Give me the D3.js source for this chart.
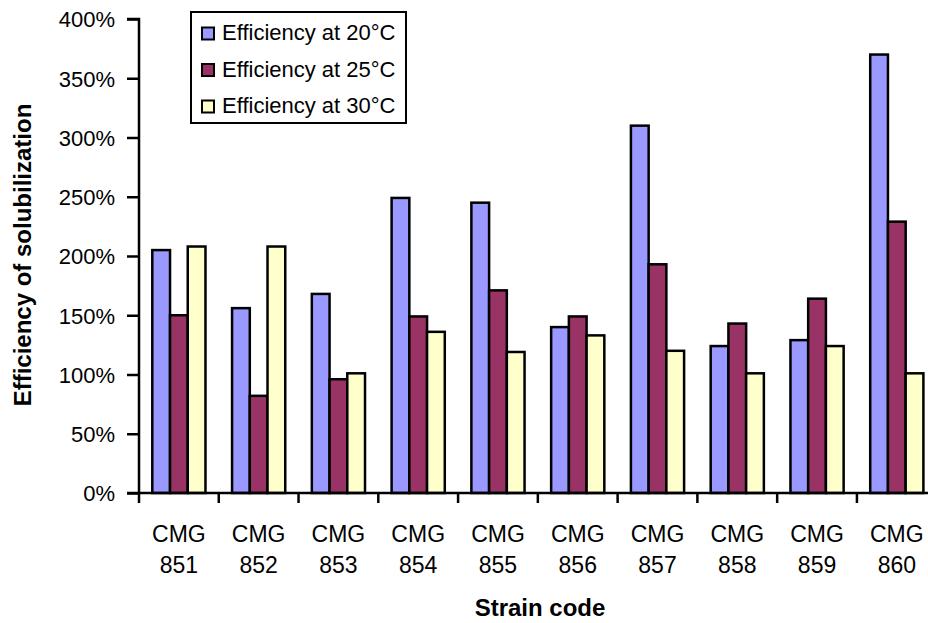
<!DOCTYPE html>
<html>
<head>
<meta charset="utf-8">
<script src="https://cdn.jsdelivr.net/npm/d3@7"></script>
<style>
  html, body { margin: 0; padding: 0; background: #fff; }
  svg { display: block; }
  text { font-family: Arial, "Liberation Sans", sans-serif; fill: #000; }
</style>
</head>
<body>
<svg id="chart" width="928" height="623"></svg>
<script>
const categories = ["CMG 851", "CMG 852", "CMG 853", "CMG 854", "CMG 855",
                    "CMG 856", "CMG 857", "CMG 858", "CMG 859", "CMG 860"];
const seriesNames = ["Efficiency at 20°C", "Efficiency at 25°C", "Efficiency at 30°C"];
const eff20 = [205, 156, 168, 249, 245, 140, 310, 124, 129, 370];
const eff25 = [150, 82, 96, 149, 171, 149, 193, 143, 164, 229];
const eff30 = [208, 208, 101, 136, 119, 133, 120, 101, 124, 101];
const yTicks = [0, 50, 100, 150, 200, 250, 300, 350, 400];
const colors = ["#9999FF", "#993366", "#FFFFCC"];
const xTitle = "Strain code";
const yTitle = "Efficiency of solubilization";

const seriesValues = [eff20, eff25, eff30];

const svg = d3.select("#chart");
const plotLeft = 139, plotTop = 19, plotBottom = 493;
const catStep = 79.77;
const plotRight = plotLeft + catStep * categories.length;

const y = d3.scaleLinear().domain([0, 400]).range([plotBottom, plotTop]);
const x0 = d3.scaleBand().domain(categories).range([plotLeft, plotRight]).padding(0);
const W = x0.bandwidth();
const x1 = d3.scaleBand().domain(d3.range(seriesNames.length))
  .range([W * 0.75 / 4.5, W - W * 0.75 / 4.5]).padding(0);

// bars
const groups = svg.append("g").selectAll("g")
  .data(categories)
  .join("g")
  .attr("transform", d => `translate(${x0(d)},0)`);

groups.selectAll("rect")
  .data((c, i) => seriesValues.map((vals, s) => ({ s, v: vals[i] })))
  .join("rect")
  .attr("x", d => x1(d.s))
  .attr("y", d => y(d.v))
  .attr("width", x1.bandwidth())
  .attr("height", d => y(0) - y(d.v))
  .attr("fill", d => colors[d.s])
  .attr("stroke", "#000")
  .attr("stroke-width", 2.5);

// y axis
const yAxis = d3.axisLeft(y).tickValues(yTicks).tickSize(12).tickPadding(12)
  .tickFormat(d => d + "%");
const gy = svg.append("g").attr("transform", `translate(${plotLeft},0)`).call(yAxis);
gy.select(".domain").attr("stroke", "#000").attr("stroke-width", 2.5)
  .attr("d", `M-12,${plotTop}H0V${plotBottom}H-12`);
gy.selectAll(".tick line").attr("stroke", "#000").attr("stroke-width", 2.5);
gy.selectAll(".tick text")
  .attr("font-size", 22)
  .attr("font-family", "Arial, 'Liberation Sans', sans-serif")
  .attr("dy", "0.36em")
  .attr("x", -24);

// x axis line and boundary ticks
const gx = svg.append("g");
gx.append("line")
  .attr("x1", plotLeft).attr("x2", plotRight)
  .attr("y1", y(0)).attr("y2", y(0))
  .attr("stroke", "#000").attr("stroke-width", 2.5);
gx.selectAll("line.xt")
  .data(categories.concat(["__end"]))
  .join("line")
  .attr("class", "xt")
  .attr("x1", d => d === "__end" ? plotRight : x0(d))
  .attr("x2", d => d === "__end" ? plotRight : x0(d))
  .attr("y1", y(0)).attr("y2", y(0) + 10)
  .attr("stroke", "#000").attr("stroke-width", 2.5);

// category labels (two lines)
const lab = gx.selectAll("text.cat")
  .data(categories)
  .join("text")
  .attr("class", "cat")
  .attr("text-anchor", "middle")
  .attr("font-size", 23)
  .attr("transform", d => `translate(${x0(d) + W / 2},0)`);
lab.append("tspan").attr("x", 0).attr("y", 542).text(d => d.split(" ")[0]);
lab.append("tspan").attr("x", 0).attr("y", 573).text(d => d.split(" ")[1]);

// axis titles
svg.append("text")
  .attr("x", 540).attr("y", 616)
  .attr("text-anchor", "middle")
  .attr("font-size", 24).attr("font-weight", "bold")
  .text(xTitle);

svg.append("text")
  .attr("transform", `translate(31,${(plotTop + plotBottom) / 2 - 1}) rotate(-90)`)
  .attr("text-anchor", "middle")
  .attr("font-size", 24).attr("font-weight", "bold")
  .text(yTitle);

// legend
const lg = svg.append("g");
lg.append("rect")
  .attr("x", 191).attr("y", 12).attr("width", 215).attr("height", 111)
  .attr("fill", "#fff").attr("stroke", "#000").attr("stroke-width", 2);
const items = lg.selectAll("g.item")
  .data(seriesNames)
  .join("g")
  .attr("class", "item")
  .attr("transform", (d, i) => `translate(0,${i * 36.5})`);
items.append("rect")
  .attr("x", 202).attr("y", 27.5).attr("width", 12).attr("height", 12)
  .attr("fill", (d, i) => colors[i])
  .attr("stroke", "#000").attr("stroke-width", 2);
items.append("text")
  .attr("x", 222).attr("y", 40)
  .attr("font-size", 22)
  .text(d => d);
</script>
</body>
</html>
